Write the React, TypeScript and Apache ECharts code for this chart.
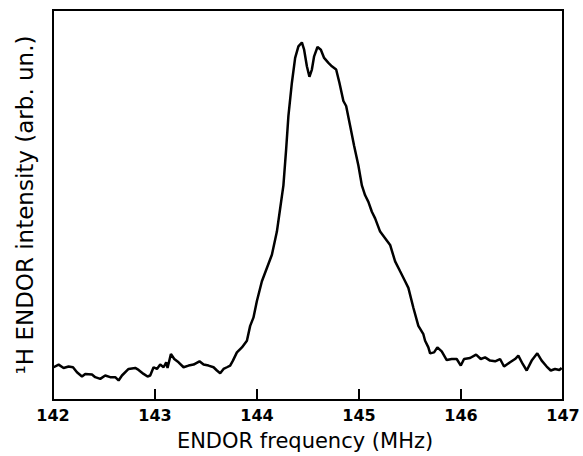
import React, { useEffect, useRef } from "react";
import * as echarts from "echarts";

const freqMHz: number[] = [
  142.006, 142.055, 142.104, 142.153, 142.196, 142.235, 142.284, 142.316, 142.382, 142.414,
  142.463, 142.512, 142.561, 142.61, 142.643, 142.676, 142.741, 142.806, 142.839, 142.888,
  142.927, 142.953, 142.986, 143.019, 143.051, 143.084, 143.11, 143.123, 143.156, 143.189,
  143.231, 143.28, 143.329, 143.378, 143.436, 143.476, 143.525, 143.574, 143.607, 143.639,
  143.672, 143.705, 143.737, 143.764, 143.803, 143.852, 143.901, 143.933, 143.965, 143.999,
  144.048, 144.097, 144.146, 144.195, 144.227, 144.259, 144.286, 144.308, 144.342, 144.374,
  144.406, 144.44, 144.462, 144.489, 144.514, 144.538, 144.56, 144.593, 144.626, 144.658,
  144.7, 144.734, 144.776, 144.808, 144.847, 144.874, 144.913, 144.952, 144.994, 145.028,
  145.06, 145.092, 145.126, 145.158, 145.207, 145.256, 145.305, 145.354, 145.403, 145.452,
  145.484, 145.533, 145.582, 145.631, 145.648, 145.68, 145.697, 145.736, 145.768, 145.811,
  145.86, 145.909, 145.958, 145.998, 146.03, 146.089, 146.148, 146.194, 146.236, 146.285,
  146.334, 146.383, 146.422, 146.481, 146.53, 146.562, 146.605, 146.644, 146.693, 146.748,
  146.791, 146.84, 146.88, 146.922, 146.964, 146.987,
];

const intensity: number[] = [
  8.4, 9.08, 8.22, 8.58, 8.4, 7.12, 6.03, 6.69, 6.54, 5.85,
  5.42, 6.28, 5.85, 5.85, 5.01, 6.28, 7.96, 8.22, 7.71, 6.69,
  6.03, 6.28, 8.4, 7.96, 9.08, 8.4, 9.67, 8.22, 11.78, 10.51,
  9.67, 8.4, 8.83, 9.08, 9.92, 9.08, 8.83, 8.4, 7.56, 6.87,
  7.96, 8.4, 8.83, 10.1, 12.21, 13.49, 15.19, 19.01, 21.12, 25.37,
  30.46, 33.84, 37.23, 43.18, 49.11, 55.04, 64.38, 72.85, 81.35, 87.71,
  90.66, 91.68, 89.82, 85.57, 82.88, 84.73, 88.12, 90.51, 89.82, 87.71,
  86.44, 85.57, 84.73, 81.35, 76.67, 75.39, 70.31, 65.22, 60.13, 55.04,
  52.49, 50.81, 48.27, 46.56, 43.18, 41.48, 39.77, 35.55, 33.0, 30.46,
  28.75, 23.66, 19.01, 16.87, 15.19, 13.49, 11.96, 12.21, 13.49, 12.47,
  10.25, 10.51, 10.51, 8.83, 10.51, 10.76, 11.63, 10.51, 10.94, 10.1,
  9.92, 10.51, 8.58, 9.67, 10.51, 11.37, 9.24, 7.56, 10.1, 11.96,
  10.1, 8.58, 7.56, 7.96, 7.71, 8.22,
];

const xTicks = { min: 142, max: 147, interval: 1 };
const xTitle = "ENDOR frequency (MHz)";
const yTitle = "¹H ENDOR intensity (arb. un.)";

export default function App() {
  const ref = useRef<HTMLDivElement>(null);
  useEffect(() => {
    if (!ref.current) return;
    const chart = echarts.init(ref.current, undefined, { renderer: "svg" });
    const font = "DejaVu Sans, Liberation Sans, Arial, sans-serif";
    chart.setOption({
      animation: false,
      backgroundColor: "#fff",
      grid: {
        left: 53,
        right: 20,
        top: 10,
        bottom: 53,
        show: true,
        borderColor: "#000",
        borderWidth: 2,
        backgroundColor: "transparent",
      },
      xAxis: {
        type: "value",
        min: xTicks.min,
        max: xTicks.max,
        interval: xTicks.interval,
        name: xTitle,
        nameLocation: "middle",
        nameGap: 30,
        nameTextStyle: { fontFamily: font, fontSize: 21, color: "#000", padding: [0, 6, 0, 0] },
        axisLine: { show: true, lineStyle: { color: "#000", width: 2 } },
        axisTick: { show: true, inside: true, length: 11, lineStyle: { color: "#000", width: 2 } },
        axisLabel: {
          fontFamily: font,
          fontSize: 16,
          fontWeight: "bold",
          color: "#000",
          margin: 7,
        },
        splitLine: { show: false },
      },
      yAxis: {
        type: "value",
        min: 0,
        max: 100,
        name: yTitle,
        nameLocation: "middle",
        nameGap: 17,
        nameRotate: 90,
        nameTextStyle: { fontFamily: font, fontSize: 23, color: "#000" },
        axisLine: { show: true, lineStyle: { color: "#000", width: 2 } },
        axisTick: { show: false },
        axisLabel: { show: false },
        splitLine: { show: false },
      },
      series: [
        {
          type: "line",
          data: freqMHz.map((f, i) => [f, intensity[i]]),
          showSymbol: false,
          lineStyle: { color: "#000", width: 2.5 },
          smooth: false,
        },
      ],
    });
    return () => chart.dispose();
  }, []);
  return (
    <div
      ref={ref}
      style={{ position: "absolute", left: 0, top: 0, width: 583, height: 456 }}
    />
  );
}
